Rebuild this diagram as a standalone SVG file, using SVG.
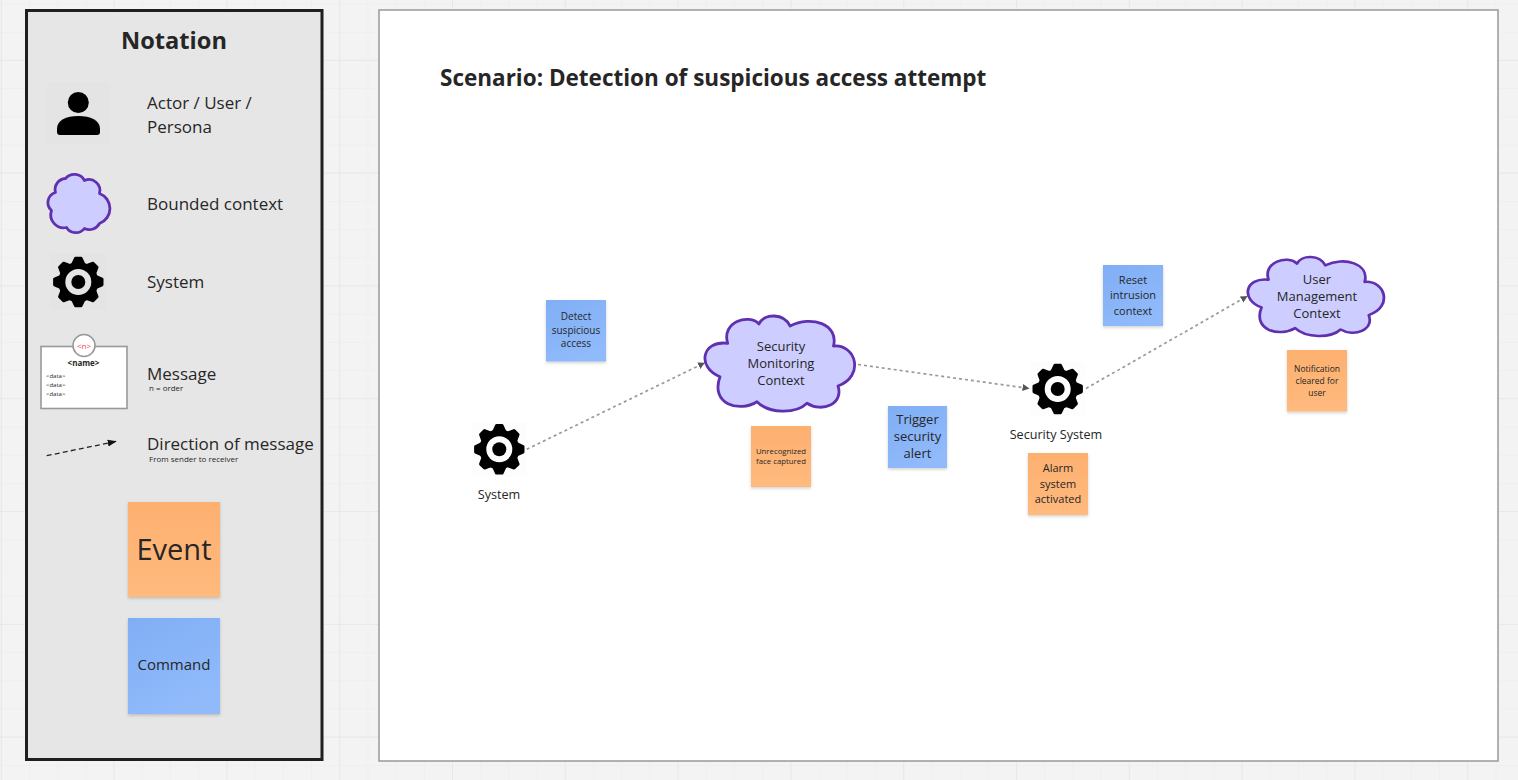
<svg xmlns="http://www.w3.org/2000/svg" xmlns:xlink="http://www.w3.org/1999/xlink" width="1518" height="780" viewBox="0 0 1518 780">
<style>
text{font-family:"Open Sans","Noto Sans","Liberation Sans",sans-serif;fill:#262626}
.c{text-anchor:middle}
.leg{font-size:17px}
.sub{font-size:8px}
.small{font-size:7.8px;text-anchor:middle}
.mid{font-size:10px;text-anchor:middle}
.big{font-size:13px;text-anchor:middle}
.cloud{fill:#cdcdff;stroke:#6030b0;stroke-width:2.8;stroke-linejoin:round}
.conn{fill:none;stroke:#9a9a9a;stroke-width:1.7;stroke-dasharray:3 3}
.tile{fill:#000;fill-opacity:.006}
</style>
<defs>
<pattern id="minor" width="28.2" height="28.2" patternUnits="userSpaceOnUse" x="1.8" y="4.5"><path d="M28.2 0V28.2H0" fill="none" stroke="#ececec" stroke-width="1"/></pattern>
<pattern id="major" width="112.8" height="112.8" patternUnits="userSpaceOnUse" x="1.8" y="-52"><path d="M112.8 0V112.8H0" fill="none" stroke="#e6e6e6" stroke-width="1.5"/></pattern>
<linearGradient id="og" x1="0" y1="0" x2="0" y2="1"><stop offset="0" stop-color="#fdb070"/><stop offset="1" stop-color="#ffba7d"/></linearGradient>
<linearGradient id="bg" x1="0" y1="0" x2=".5" y2="1"><stop offset="0" stop-color="#80aef5"/><stop offset="1" stop-color="#90bafa"/></linearGradient>
<filter id="sh" x="-10%" y="-10%" width="120%" height="125%"><feDropShadow dx="0" dy="1.5" stdDeviation="1.5" flood-color="#000" flood-opacity=".18"/></filter>
<marker id="ah" markerUnits="userSpaceOnUse" markerWidth="8" markerHeight="8" refX="7" refY="4" orient="auto"><path d="M0 .5L7 4L0 7.5z" fill="#555"/></marker>
<marker id="ahd" markerUnits="userSpaceOnUse" markerWidth="10" markerHeight="8" refX="9" refY="4" orient="auto"><path d="M0 .5L9 4L0 7.5z" fill="#111"/></marker>
<path id="tooth" d="M-5.2 -18.5L-2.8 -23.7H2.8L5.2 -18.5Z" fill="#000" stroke="#000" stroke-width="3" stroke-linejoin="round"/>
<path id="bigcloud" d="M16 60.7C-7 52 -3 24 23.7 27.3C17 6 45 -3 55 8C60 -3 80 -3 86 10C107 -1 135 8 129.5 30C152 28 161 60 134 70C140 88 118 97 103 87.3C92 98 65 98 53 85.7C35 97 6 88 16 60.7Z"/>
<g id="gear">
<circle r="16.5" fill="none" stroke="#000" stroke-width="7"/>
<circle r="7" fill="#000"/>
<use xlink:href="#tooth" href="#tooth"/>
<use xlink:href="#tooth" href="#tooth" transform="rotate(45)"/>
<use xlink:href="#tooth" href="#tooth" transform="rotate(90)"/>
<use xlink:href="#tooth" href="#tooth" transform="rotate(135)"/>
<use xlink:href="#tooth" href="#tooth" transform="rotate(180)"/>
<use xlink:href="#tooth" href="#tooth" transform="rotate(225)"/>
<use xlink:href="#tooth" href="#tooth" transform="rotate(270)"/>
<use xlink:href="#tooth" href="#tooth" transform="rotate(315)"/>
</g>
</defs>

<g id="background">
<rect width="1518" height="780" fill="#f3f3f3"/>
<rect width="1518" height="780" fill="url(#minor)"/>
<rect width="1518" height="780" fill="url(#major)"/>
</g>

<g id="notation-panel">
<rect x="26.5" y="10.5" width="295.5" height="749" fill="#e6e6e6" stroke="#1f1f1f" stroke-width="3"/>
<text x="174" y="49" class="c" font-size="23.6" font-weight="700">Notation</text>
</g>

<g id="legend-actor">
<rect class="tile" x="47" y="82" width="62" height="62"/>
<circle cx="78.3" cy="102.5" r="10.5" fill="#000"/>
<path d="M57 132V129C57 120 66 116 78.3 116S100 120 100 129V132Q100 135 97 135H60Q57 135 57 132Z" fill="#000"/>
<text class="leg" x="147" y="109">Actor / User /</text>
<text class="leg" x="147" y="133">Persona</text>
</g>

<g id="legend-bounded-context">
<path class="cloud" transform="translate(-1.5 .5)" d="M57 192A11 11 0 0 1 67 178A11.5 11.5 0 0 1 86 180A11 11 0 0 1 101 193A16 16 0 0 1 101 223A11.5 11.5 0 0 1 86 228A11 11 0 0 1 68 227A13 13 0 0 1 53 210A10.500 10.500 0 0 1 57 192Z"/>
<text class="leg" x="147" y="210">Bounded context</text>
</g>

<g id="legend-system">
<rect class="tile" x="51" y="254" width="55" height="56"/>
<use xlink:href="#gear" href="#gear" x="78.3" y="282"/>
<text class="leg" x="147" y="288">System</text>
</g>

<g id="legend-message">
<rect x="41" y="346.5" width="86" height="62" fill="#fff" stroke="#999" stroke-width="1.6"/>
<circle cx="84" cy="345.5" r="11" fill="#fff" stroke="#999" stroke-width="1.6"/>
<text x="84" y="348.5" class="c" font-size="8" style="fill:#f04848">&lt;n&gt;</text>
<text x="83.5" y="366" class="c" font-size="8" font-weight="700">&lt;name&gt;</text>
<text x="46" y="378" font-size="6">&lt;data&gt;</text>
<text x="46" y="387" font-size="6">&lt;data&gt;</text>
<text x="46" y="396" font-size="6">&lt;data&gt;</text>
<text class="leg" x="147" y="380">Message</text>
<text class="sub" x="149" y="391">n = order</text>
</g>

<g id="legend-direction">
<path d="M46.7 455.7L116.7 441.3" fill="none" stroke="#222" stroke-width="1.3" stroke-dasharray="5 3.2" marker-end="url(#ahd)"/>
<text class="leg" x="147" y="450">Direction of message</text>
<text class="sub" x="149" y="462">From sender to receiver</text>
</g>

<g id="legend-event">
<rect x="128" y="502" width="92" height="95" fill="url(#og)" filter="url(#sh)"/>
<text x="174" y="559.500" class="c" font-size="29">Event</text>
</g>

<g id="legend-command">
<rect x="128" y="618" width="92" height="96" fill="url(#bg)" filter="url(#sh)"/>
<text x="174" y="670" class="c" font-size="15">Command</text>
</g>

<g id="scenario-canvas">
<rect x="379" y="10" width="1119" height="751" fill="#fff" stroke="#999" stroke-width="1.5"/>
<text x="440" y="85.500" font-size="22.5" font-weight="700">Scenario: Detection of suspicious access attempt</text>
</g>

<g id="connectors">
<path class="conn" d="M526.7 449.3L705 362.7" marker-end="url(#ah)"/>
<path class="conn" d="M858 364.5L1029.5 388.5" marker-end="url(#ah)"/>
<path class="conn" d="M1086 388.5L1247.7 296" marker-end="url(#ah)"/>
</g>

<g id="node-system">
<rect class="tile" x="472" y="422" width="55" height="55"/>
<use xlink:href="#gear" href="#gear" x="499.3" y="449.3"/>
<text x="499" y="499" class="c" font-size="12.6">System</text>
</g>

<g id="cmd-detect">
<rect x="546" y="300" width="60" height="61.5" fill="url(#bg)" filter="url(#sh)"/>
<text class="mid" x="576" y="320">Detect</text>
<text class="mid" x="576" y="334">suspicious</text>
<text class="mid" x="576" y="347">access</text>
</g>

<g id="node-security-monitoring">
<use class="cloud" xlink:href="#bigcloud" href="#bigcloud" transform="translate(704 316)"/>
<text class="big" x="781" y="351">Security</text>
<text class="big" x="781" y="368">Monitoring</text>
<text class="big" x="781" y="385">Context</text>
</g>

<g id="evt-unrecognized">
<rect x="751" y="426" width="60" height="61" fill="url(#og)" filter="url(#sh)"/>
<text class="small" x="781" y="453.5">Unrecognized</text>
<text class="small" x="781" y="463.5">face captured</text>
</g>

<g id="cmd-trigger">
<rect x="888" y="406" width="59" height="62" fill="url(#bg)" filter="url(#sh)"/>
<text class="big" x="917.5" y="424">Trigger</text>
<text class="big" x="917.5" y="441">security</text>
<text class="big" x="917.5" y="458">alert</text>
</g>

<g id="node-security-system">
<rect class="tile" x="1030" y="362" width="55" height="55"/>
<use xlink:href="#gear" href="#gear" x="1057.7" y="389"/>
<text x="1056" y="438.500" class="c" font-size="12.6">Security System</text>
</g>

<g id="evt-alarm">
<rect x="1028" y="453" width="60" height="62" fill="url(#og)" filter="url(#sh)"/>
<text class="mid" style="font-size:11px" x="1058" y="471.500">Alarm</text>
<text class="mid" style="font-size:11px" x="1058" y="487.500">system</text>
<text class="mid" style="font-size:11px" x="1058" y="502.500">activated</text>
</g>

<g id="cmd-reset">
<rect x="1103" y="265" width="60" height="61" fill="url(#bg)" filter="url(#sh)"/>
<text class="mid" style="font-size:11px" x="1133" y="283.500">Reset</text>
<text class="mid" style="font-size:11px" x="1133" y="299">intrusion</text>
<text class="mid" style="font-size:11px" x="1133" y="314.500">context</text>
</g>

<g id="node-user-management">
<use class="cloud" xlink:href="#bigcloud" href="#bigcloud" transform="translate(1247 257) scale(.909 .83)" style="stroke-width:3.1"/>
<text class="big" x="1317" y="284">User</text>
<text class="big" x="1317" y="301">Management</text>
<text class="big" x="1317" y="318">Context</text>
</g>

<g id="evt-notification">
<rect x="1287" y="350" width="60" height="61.500" fill="url(#og)" filter="url(#sh)"/>
<text class="small" style="font-size:8.500px" x="1317" y="372">Notification</text>
<text class="small" style="font-size:8.500px" x="1317" y="384">cleared for</text>
<text class="small" style="font-size:8.500px" x="1317" y="396">user</text>
</g>
</svg>
